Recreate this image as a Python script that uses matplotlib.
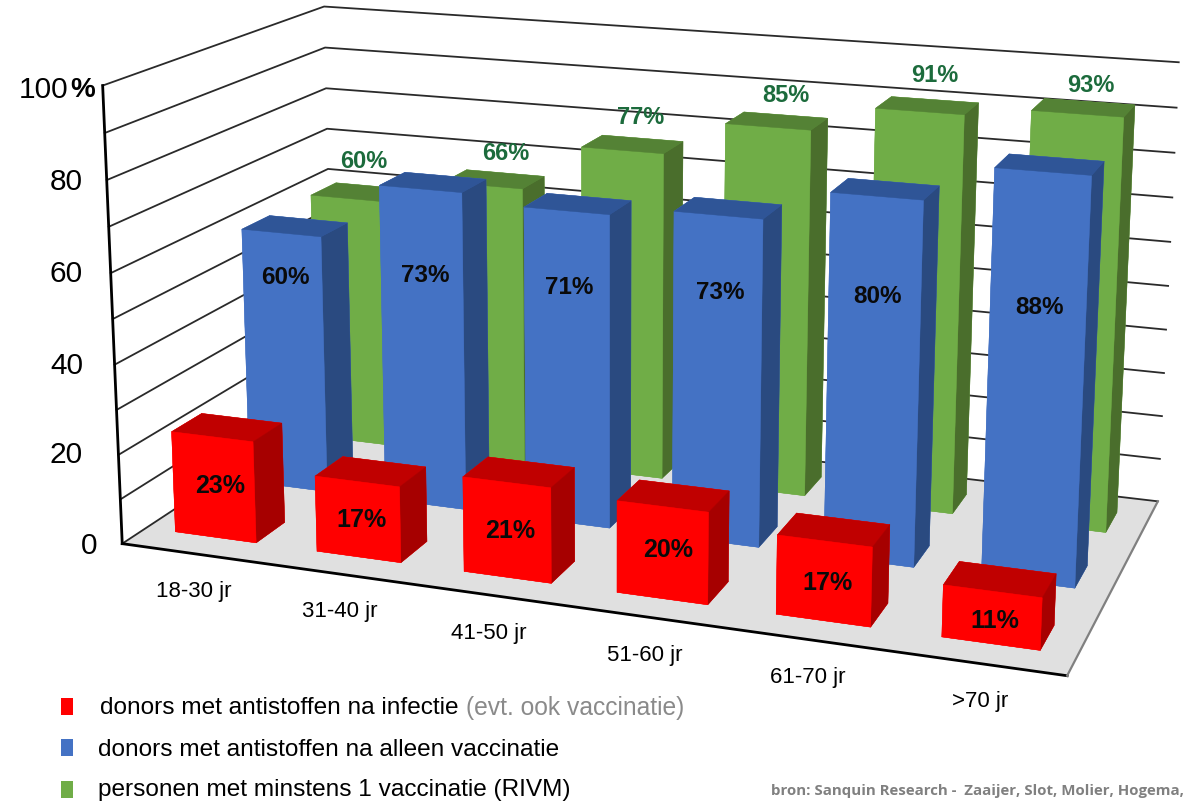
import matplotlib
matplotlib.use('Agg')
import matplotlib.pyplot as plt
import numpy as np
from mpl_toolkits.mplot3d.art3d import Poly3DCollection

plt.rcParams['font.family'] = ['Liberation Sans', 'DejaVu Sans']

# data
age_groups = ['18-30 jr', '31-40 jr', '41-50 jr', '51-60 jr', '61-70 jr', '>70 jr']
infection = [23, 17, 21, 20, 17, 11]
vaccination = [60, 73, 71, 73, 80, 88]
rivm = [60, 66, 77, 85, 91, 93]
grid_levels = [0, 10, 20, 30, 40, 50, 60, 70, 80, 90, 100]
tick_labels = ['0', '20', '40', '60', '80']

W, H = 1188, 803
n = len(age_groups)

# camera fitted on the corners of the box in the picture (x groups, y depth, z percent)
cam = np.array([[137.2917, 264.4289, -0.23520, 122.2326],
                [9.20896, -74.7920, -4.61426, 544.6539],
                [-0.0189199, 0.158914, -0.00038475, 1.0]])


def pos(x, y):
    return x / W, 1 - y / H


def label(x, y, s, **kw):
    # text sits about 2 px high when centred
    fig.text(*pos(x, y + 2), s, va='center', **kw)


fig = plt.figure(figsize=(W / 100, H / 100), dpi=100)
# 3d axes are kept square, so make it as large as the figure is wide
ax = fig.add_axes([0, -(W - H) / 2 / H, 1, W / H], projection='3d', computed_zorder=False)
ax.set_axis_off()


def get_proj():
    # pixels (y down) to the 2d coords of the axes, depth in the third row
    to_disp = np.array([[1, 0, 0], [0, -1, H], [0, 0, 1]], float)
    to_data = ax.transData.inverted().get_affine().get_matrix() @ to_disp
    top = to_data @ cam
    return np.array([top[0], top[1], [0, 0, 0, -1.0], top[2]])


ax.get_proj = get_proj

# floor
floor = [[(0, 0, 0), (n, 0, 0), (n, 1, 0), (0, 1, 0)]]
ax.add_collection3d(Poly3DCollection(floor, facecolor='#e0e0e0', edgecolor='none', zorder=1))

# gridlines on the two walls
for z in grid_levels:
    ax.plot([0, 0, n], [0, 1, 1], [z, z, z], color='#2a2a2a', lw=1.3, zorder=2)
ax.plot([0, 0], [0, 0], [0, 100], color='black', lw=2.0, zorder=2)
ax.plot([0, n], [0, 0], [0, 0], color='black', lw=2.0, zorder=2)
ax.plot([n, n], [0, 1], [0, 0], color='#808080', lw=1.6, zorder=2)

# colours per face: bottom, top, front, back, left, right
series = [
    (rivm, 0.77, ['#70ad47', '#548235', '#70ad47', '#70ad47', '#70ad47', '#4a6e2c']),
    (vaccination, 0.435, ['#4472c4', '#2f5597', '#4472c4', '#4472c4', '#4472c4', '#2a4a80']),
    (infection, 0.10, ['#ff0000', '#c00000', '#ff0000', '#ff0000', '#ff0000', '#a60000']),
]
order = 3
for values, depth, colors in series:
    for i in range(n):
        # bars in the picture stand a little under their labels
        ax.bar3d(i + 0.21, depth, 0, 0.575, 0.13, values[i] * 0.99, color=colors, shade=False,
                 edgecolor=colors, linewidth=0.3, zorder=order)
        order += 1

# value labels
red_xy = [(220, 484), (361, 518), (510, 529), (668, 548), (828, 581), (995, 619)]
blue_xy = [(285, 275), (425, 273), (569, 285), (720, 291), (878, 295), (1040, 306)]
green_xy = [(364, 160), (506, 152), (641, 115), (786, 93), (935, 74), (1091, 84)]
for v, (x, y) in zip(infection, red_xy):
    label(x, y, f'{v}%', fontsize=18, fontweight='bold', ha='center', color='#0a0a0a')
for v, (x, y) in zip(vaccination, blue_xy):
    label(x, y, f'{v}%', fontsize=17.5, fontweight='bold', ha='center', color='#0a0a0a')
for v, (x, y) in zip(rivm, green_xy):
    label(x, y, f'{v}%', fontsize=17, fontweight='bold', ha='center', color='#1c6b3c')

# percent axis
tick_y = [544, 453, 364, 272, 180]
for t, y in zip(tick_labels, tick_y):
    label(97 if t == '0' else 83, y, t, fontsize=21.5, ha='right')
label(68, 88, '100', fontsize=21.5, ha='right')
label(70, 88, '%', fontsize=20, fontweight='bold', ha='left')

# age groups
age_xy = [(194, 590), (340, 610), (489, 632), (645, 653), (808, 676), (980, 700)]
for t, (x, y) in zip(age_groups, age_xy):
    label(x, y, t, fontsize=16, ha='center')

# legend
legend_rows = [('#ff0000', 699, 'donors met antistoffen na infectie', 100, 706),
               ('#4472c4', 740, 'donors met antistoffen na alleen vaccinatie', 98, 748),
               ('#70ad47', 782, 'personen met minstens 1 vaccinatie (RIVM)', 98, 788)]
for color, top, text, x, y in legend_rows:
    fig.patches.append(plt.Rectangle(pos(61, top + 17), 12 / W, 17 / H, transform=fig.transFigure,
                                     facecolor=color, edgecolor='none'))
    label(x, y, text, fontsize=17.6, ha='left')
label(466, 706, '(evt. ook vaccinatie)', fontsize=17.7, ha='left', color='#8a8a8a')

label(771, 789, 'bron: Sanquin Research -  Zaaijer, Slot, Molier, Hogema,', family='Open Sans',
      fontsize=10.85, fontweight='bold', ha='left', color='#808080')

fig.savefig('out.png', dpi=100)
